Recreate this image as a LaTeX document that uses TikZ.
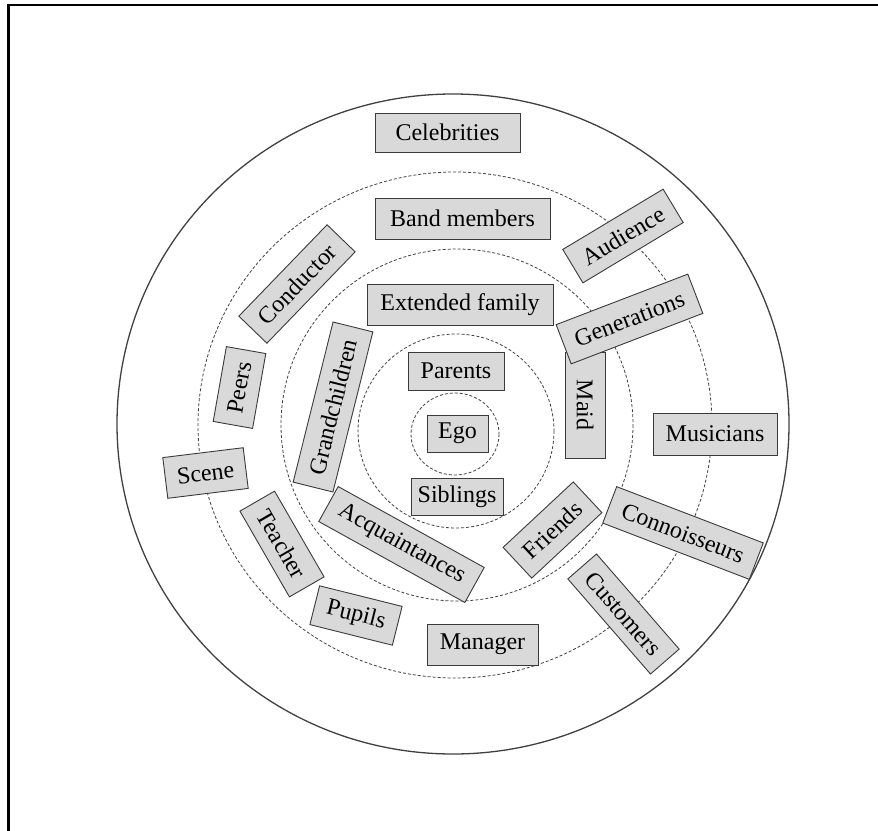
\documentclass[tikz,border=0pt]{standalone}
\usepackage{fontspec}
\setmainfont{Liberation Serif}
\definecolor{boxfill}{HTML}{D9D9D9}
\definecolor{boxline}{HTML}{3A3A3A}
\definecolor{ringline}{HTML}{404040}
\tikzset{
  lbl/.style={draw=boxline, fill=boxfill, line width=0.9pt, inner sep=0pt,
    font=\fontsize{24}{28}\selectfont, text=black, anchor=center},
  ring/.style={draw=ringline, line width=0.8pt, dash pattern=on 3pt off 2pt},
  outerring/.style={draw=ringline, line width=1.3pt},
  frame/.style={draw=black, line width=2.2pt}
}
\begin{document}
\begin{tikzpicture}[x=1pt,y=-1pt]
\useasboundingbox (0,0) rectangle (878,830);
\draw[frame] (8.5,5) rectangle (920,880);
% rings
\draw[outerring] (453,424) ellipse [x radius=336, y radius=330];
\draw[ring] (455,425) ellipse [x radius=257, y radius=253];
\draw[ring] (457,425) ellipse [x radius=176, y radius=176];
\draw[ring] (456,431) ellipse [x radius=98, y radius=97];
\draw[ring] (455,434) ellipse [x radius=44, y radius=41];
% upright boxes
\node[lbl, minimum width=145, minimum height=39] (celeb) at (447.5,132.5) {Celebrities};
\node[lbl, minimum width=175, minimum height=41] (band) at (462.5,218.5) {Band members};
\node[lbl, minimum width=186, minimum height=41] (extfam) at (460,304.5) {Extended family};
\node[lbl, minimum width=96, minimum height=38] (parents) at (456,371) {Parents};
\node[lbl, minimum width=61, minimum height=37] (ego) at (457.5,433.5) {Ego};
\node[lbl, minimum width=92, minimum height=37] (siblings) at (457,496.5) {Siblings};
\node[lbl, minimum width=124, minimum height=42] (musicians) at (715,434) {Musicians};
\node[lbl, minimum width=111, minimum height=41] (manager) at (482.5,644.5) {Manager};
% rotated boxes
\node[lbl, minimum width=106, minimum height=40, rotate=-90] (maid) at (585,405) {Maid};
\node[lbl, minimum width=165, minimum height=41, rotate=76] (grand) at (333,407) {Grandchildren};
\node[lbl, minimum width=76, minimum height=40, rotate=80] (peers) at (239.5,387.5) {Peers};
\node[lbl, minimum width=81, minimum height=41, rotate=7] (scene) at (205.5,473) {Scene};
\node[lbl, minimum width=99, minimum height=40, rotate=-60] (teacher) at (282,544) {Teacher};
\node[lbl, minimum width=127, minimum height=39, rotate=46] (conductor) at (297,284) {Conductor};
\node[lbl, minimum width=117, minimum height=39, rotate=31] (audience) at (623,236) {Audience};
\node[lbl, minimum width=141, minimum height=42, rotate=21] (gener) at (629.5,319) {Generations};
\node[lbl, minimum width=157, minimum height=39, rotate=-21] (conn) at (683,533) {Connoisseurs};
\node[lbl, minimum width=126, minimum height=38, rotate=-49] (cust) at (623.5,614) {Customers};
\node[lbl, minimum width=96, minimum height=42, rotate=43] (friends) at (552.5,530) {Friends};
\node[lbl, minimum width=167, minimum height=40, rotate=-29] (acq) at (401.5,544.5) {Acquaintances};
\node[lbl, minimum width=85, minimum height=40, rotate=-14] (pupils) at (356,615.5) {Pupils};
\end{tikzpicture}
\end{document}
